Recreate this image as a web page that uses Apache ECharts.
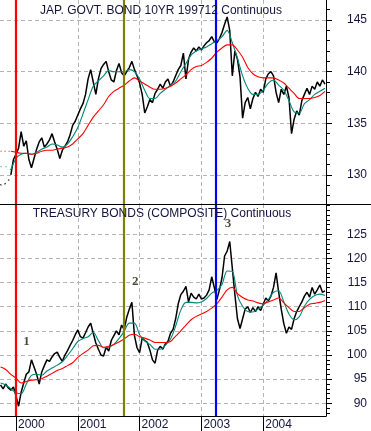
<!DOCTYPE html>
<html><head><meta charset="utf-8">
<script src="https://cdn.jsdelivr.net/npm/echarts@6/dist/echarts.min.js"></script>
<style>html,body{margin:0;padding:0;background:#fff}#c{width:371px;height:431px}</style>
</head><body><div id="c"></div>
<script>
// ---------- data ----------
const yearTicks = [2000, 2001, 2002, 2003, 2004];
const jgbTitle = 'JAP. GOVT. BOND 10YR 199712 Continuous';
const tbTitle = 'TREASURY BONDS (COMPOSITE) Continuous';
const jgbLabels = [130, 135, 140, 145];
const tbLabels = [90, 95, 100, 105, 110, 115, 120, 125];

// half-monthly closes, starting at 1999.75
const jgbClose = [
129.0,129.3,129.1,129.4,130.0,131.5,132.0,132.6,134.2,132.8,
133.3,131.5,130.7,131.6,132.5,133.2,133.6,132.7,133.0,133.4,
134.0,133.2,132.5,131.6,132.4,132.8,133.2,133.9,134.8,135.2,
135.8,136.4,136.9,137.8,139.3,140.2,139.0,137.8,139.3,140.3,
140.7,141.0,140.0,139.2,139.0,140.1,140.8,139.9,139.6,140.0,
140.4,141.0,140.2,139.6,138.9,137.8,136.0,136.6,137.3,137.0,
137.9,138.3,138.8,138.4,139.0,139.3,138.6,139.0,139.6,140.2,
140.6,141.8,139.3,141.2,141.9,142.3,142.0,142.4,142.1,142.5,
142.8,143.0,143.4,142.9,142.8,143.2,143.8,144.6,145.3,144.0,
139.6,142.0,141.2,139.5,135.5,137.0,137.5,136.4,137.4,138.0,
137.6,138.3,138.0,139.3,139.8,140.0,139.6,138.0,137.0,138.3,
137.8,138.6,137.5,134.0,135.4,136.2,135.8,137.2,137.8,138.4,
137.8,138.6,138.3,139.0,138.6,139.2,138.8];
const tbClose = [
93.8,93.0,94.0,93.2,92.7,93.4,91.5,89.4,92.3,94.2,
96.0,96.5,99.0,97.5,96.0,94.0,96.5,97.8,99.0,98.7,
99.6,100.3,100.6,99.5,98.7,100.0,100.9,102.0,103.0,104.2,
105.2,103.8,103.5,104.6,105.8,106.6,104.5,102.5,101.2,100.0,
99.8,101.6,100.8,103.0,104.0,105.0,104.2,106.2,105.3,107.8,
109.5,110.9,104.0,101.5,100.5,103.5,103.0,102.6,101.0,99.0,
98.3,101.0,101.8,101.2,102.3,102.8,104.5,105.3,107.5,110.6,
112.5,113.2,114.2,111.0,112.8,112.0,111.6,112.6,111.6,111.8,
112.4,113.5,116.2,114.0,111.5,113.5,116.0,120.5,121.5,123.5,
118.0,112.5,107.5,105.5,107.5,109.5,110.0,108.8,109.8,109.0,
110.0,109.2,110.5,111.8,111.2,112.2,114.0,117.0,113.0,109.5,
106.5,104.5,105.8,105.3,107.5,109.0,110.0,111.0,112.2,113.0,
112.0,114.0,112.6,113.5,114.5,113.0,113.3];

// monthly moving averages, starting at 1999.75
const jgbFast = [
130.8,130.8,130.5,131.6,132.0,132.1,132.0,132.2,132.5,132.7,
133.0,132.9,132.7,133.0,133.7,134.6,135.9,137.3,138.6,139.1,
139.6,140.1,140.0,140.0,140.0,140.2,140.0,139.3,138.2,137.4,
137.4,137.9,138.3,138.7,139.1,140.0,140.8,141.6,142.0,142.2,
142.4,142.7,143.0,143.4,144.0,142.8,141.3,139.6,138.4,137.8,
137.8,138.2,138.9,139.2,138.7,138.2,137.2,136.1,136.0,136.9,
137.3,137.8,138.1,138.4];
const jgbSlow = [
132.3,132.3,132.3,132.2,132.1,132.1,132.0,132.1,132.3,132.4,
132.4,132.5,132.6,132.7,133.0,133.5,134.0,134.8,135.6,136.2,
136.8,137.6,138.1,138.4,138.7,139.1,139.4,139.1,138.8,138.5,
138.3,138.3,138.4,138.6,138.9,139.3,139.7,140.2,140.5,140.6,
140.9,141.3,141.9,142.3,142.6,142.6,142.1,141.4,140.4,139.8,
139.5,139.4,139.4,139.4,139.2,138.9,138.4,137.9,137.4,137.4,
137.4,137.5,137.7,138.1];
const tbFast = [
94.2,93.8,93.0,92.2,92.0,94.0,95.8,96.0,95.8,96.7,
97.3,97.9,98.6,99.9,101.3,102.8,103.4,103.8,104.7,103.0,
101.5,101.6,102.2,103.4,104.9,106.6,106.6,104.2,102.9,102.2,
101.2,101.2,102.0,103.3,106.0,109.3,110.9,110.9,110.8,111.0,
111.7,112.8,113.4,114.6,117.4,117.3,112.3,110.1,109.0,108.9,
109.5,110.3,111.5,113.0,113.3,111.0,108.5,107.3,107.9,110.1,
111.5,112.3,112.6,112.3];
const tbSlow = [
97.5,97.0,96.0,95.2,94.2,94.5,94.8,94.9,95.1,95.6,
96.2,96.8,97.2,97.8,98.4,99.5,100.3,101.0,101.9,102.0,
101.6,101.8,102.2,102.7,103.3,104.1,104.3,103.8,103.5,103.1,
102.6,102.6,102.6,102.8,103.9,105.0,106.2,107.3,108.0,108.5,
109.0,109.7,110.6,112.0,113.5,114.0,112.7,111.9,111.4,111.2,
110.8,110.6,111.0,111.4,111.8,110.8,109.8,109.0,109.0,109.8,
110.5,110.7,110.9,111.3];

// the Japanese contract's first weeks are sparse (drawn dotted): counts of points
const jgbSparseClose = 5;
const jgbSparseMA = 3;

const eventLines = [
  { x: 2000.0,  color: '#ff0000' },
  { x: 2001.75, color: '#808000' },
  { x: 2003.23, color: '#0000ff' }
];
const notes = [[2000.17, 102.7, '1'], [2001.93, 115.1, '2'], [2003.43, 127.1, '3']];

// ---------- build ----------
const closeDates = jgbClose.map((_, i) => 1999.75 + i / 24);
const maDates = jgbFast.map((_, j) => 1999.75 + j / 12);
const zip = (xs, ys) => ys.map((v, k) => [xs[k], v]);
const range = (a, b) => { const r = []; for (let v = a; v <= b; v++) r.push(v); return r; };

const TXT = '#14143c';
const FONT = 'Liberation Sans, Arial, sans-serif';
const xMin = 1999.741, xMax = 2005.016;
const grid = [
  { left: 0, right: 45, top: 0, height: 204 },
  { left: 0, right: 45, top: 204, height: 212 }
];
const dash = { show: true, lineStyle: { color: '#b4b4b4', type: [4, 3], width: 1 } };

function yAxes(gi, min, max, labels) {
  return [
    { gridIndex: gi, type: 'value', position: 'right', min, max,
      axisLine: { show: true, lineStyle: { color: '#000', width: 1 } },
      axisTick: { show: true, customValues: labels, length: 6, lineStyle: { color: '#000' } },
      axisLabel: { show: true, customValues: labels, align: 'right', margin: 41,
        color: TXT, fontSize: 12, fontFamily: FONT },
      splitLine: dash },
    { gridIndex: gi, type: 'value', position: 'right', min, max,
      axisLine: { show: false },
      axisTick: { show: true, customValues: range(Math.ceil(min), Math.floor(max)), length: 4, lineStyle: { color: '#000' } },
      axisLabel: { show: false }, splitLine: { show: false } }
  ];
}

const vMark = {
  symbol: 'none', silent: true, animation: false, label: { show: false },
  data: eventLines.map(e => ({ xAxis: e.x, lineStyle: { color: e.color, width: 2.2, type: 'solid' } }))
};

const COL = { close: '#000', fast: '#008878', slow: '#ff0000' };

function line(gi, yIdx, data, color, width, z, extra) {
  return Object.assign({ type: 'line', xAxisIndex: gi, yAxisIndex: yIdx, data, showSymbol: false,
    lineStyle: { color, width }, z }, extra || {});
}

function panel(gi, yIdx, close, fast, slow, sparseC, sparseM) {
  const cAll = zip(closeDates, close), fAll = zip(maDates, fast), sAll = zip(maDates, slow);
  const out = [
    line(gi, yIdx, cAll.slice(sparseC ? sparseC - 1 : 0), COL.close, 1.5, 2),
    line(gi, yIdx, fAll.slice(sparseM ? sparseM - 1 : 0), COL.fast, 1.1, 3, { smooth: 0.3 }),
    line(gi, yIdx, sAll.slice(sparseM ? sparseM - 1 : 0), COL.slow, 1.1, 4, { smooth: 0.3, markLine: vMark })
  ];
  if (sparseC) {
    out.push(line(gi, yIdx, cAll.slice(0, sparseC), COL.close, 1.5, 2, { lineStyle: { color: COL.close, width: 1.5, type: [1, 5] } }));
    out.push(line(gi, yIdx, fAll.slice(0, sparseM), COL.fast, 1.1, 3, { lineStyle: { color: COL.fast, width: 1.1, type: [1, 4] } }));
    out.push(line(gi, yIdx, sAll.slice(0, sparseM), COL.slow, 1.1, 4, { lineStyle: { color: COL.slow, width: 1.1, type: [1, 3] } }));
  }
  return out;
}

const option = {
  animation: false,
  backgroundColor: '#fff',
  grid,
  xAxis: [
    { gridIndex: 0, type: 'value', min: xMin, max: xMax,
      axisLine: { show: false }, axisTick: { show: false, customValues: yearTicks },
      axisLabel: { show: false }, splitLine: dash },
    { gridIndex: 1, type: 'value', min: xMin, max: xMax, position: 'bottom',
      axisLine: { show: true, lineStyle: { color: '#000', width: 1 } },
      axisTick: { show: true, customValues: yearTicks, length: 15, lineStyle: { color: '#000' } },
      axisLabel: { show: true, customValues: yearTicks, align: 'left', margin: 3, padding: [0, 0, 0, 2],
        color: TXT, fontSize: 12, fontFamily: FONT, formatter: v => String(Math.round(v)) },
      splitLine: dash }
  ],
  yAxis: [
    ...yAxes(0, 127.19, 146.94, jgbLabels),
    ...yAxes(1, 87.37, 131.27, tbLabels)
  ],
  series: [
    ...panel(0, 0, jgbClose, jgbFast, jgbSlow, jgbSparseClose, jgbSparseMA),
    ...panel(1, 2, tbClose, tbFast, tbSlow, 0, 0),
    { type: 'scatter', xAxisIndex: 1, yAxisIndex: 2, symbolSize: 0, z: 6,
      data: notes.map(n => ({ value: [n[0], n[1]], name: n[2] })),
      label: { show: true, position: 'inside', formatter: '{b}', color: '#221a00',
        fontFamily: 'Liberation Serif, serif', fontWeight: 'bold', fontSize: 13 } }
  ],
  graphic: [
    { type: 'line', shape: { x1: 0, y1: 204.5, x2: 371, y2: 204.5 }, style: { stroke: '#000', lineWidth: 1 }, z: 10 },
    { type: 'text', x: 161, y: 11, style: { text: jgbTitle, align: 'center', verticalAlign: 'middle',
        font: '12px ' + FONT, fill: TXT }, z: 10 },
    { type: 'text', x: 162, y: 214, style: { text: tbTitle, align: 'center', verticalAlign: 'middle',
        font: '12px ' + FONT, fill: TXT }, z: 10 }
  ]
};
echarts.init(document.getElementById('c'), null, { renderer: 'canvas' }).setOption(option);
</script></body></html>
